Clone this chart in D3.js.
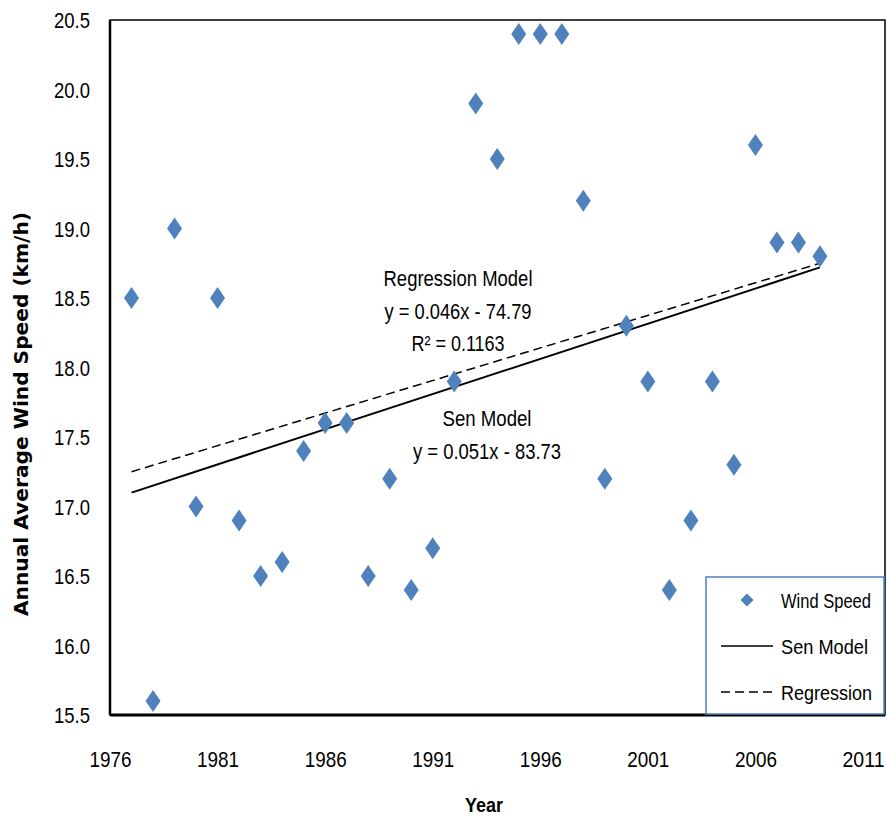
<!DOCTYPE html>
<html>
<head>
<meta charset="utf-8">
<script src="https://cdn.jsdelivr.net/npm/d3@7"></script>
<style>
  body { margin: 0; background: #fff; }
  svg { display: block; }
  .lbl { font-family: "Liberation Sans Narrow", "Arial Narrow", "Liberation Sans", sans-serif; fill: #000; }
</style>
</head>
<body>
<div id="chart"></div>
<script>
// wind speed per year
var years = [1977, 1978, 1979, 1980, 1981, 1982, 1983, 1984, 1985, 1986, 1987,
    1988, 1989, 1990, 1991, 1992, 1993, 1994, 1995, 1996, 1997, 1998,
    1999, 2000, 2001, 2002, 2003, 2004, 2005, 2006, 2007, 2008, 2009];
var windSpeed = [18.5, 15.6, 19.0, 17.0, 18.5, 16.9, 16.5, 16.6, 17.4, 17.6, 17.6,
    16.5, 17.2, 16.4, 16.7, 17.9, 19.9, 19.5, 20.4, 20.4, 20.4, 19.2,
    17.2, 18.3, 17.9, 16.4, 16.9, 17.9, 17.3, 19.6, 18.9, 18.9, 18.8];

// trend line end points (year, value)
var senLine = [[1977, 17.10], [2009, 18.72]];
var regLine = [[1977, 17.25], [2009, 18.75]];

var xTicks = [1976, 1981, 1986, 1991, 1996, 2001, 2006, 2011];
var yTicks = [15.5, 16.0, 16.5, 17.0, 17.5, 18.0, 18.5, 19.0, 19.5, 20.0, 20.5];

var regText = ["Regression Model", "y = 0.046x - 74.79", "R² = 0.1163"];
var senText = ["Sen Model", "y = 0.051x - 83.73"];
var legendItems = ["Wind Speed", "Sen Model", "Regression"];

var W = 887, H = 818;
var pL = 110, pT = 20, pR = 885, pB = 715;

var svg = d3.select("#chart").append("svg")
    .attr("width", W).attr("height", H);

var x = d3.scaleLinear().domain([1976, 2011]).range([pL, 863]);
var y = d3.scaleLinear().domain([15.5, 20.5]).range([pB, pT]);

// squeeze text to the narrow look of the original font
function fit(sel, w) {
    sel.attr("textLength", w).attr("lengthAdjust", "spacingAndGlyphs");
}

// plot frame
svg.append("rect")
    .attr("x", pL).attr("y", pT)
    .attr("width", pR - pL).attr("height", pB - pT)
    .attr("fill", "none").attr("stroke", "#000").attr("stroke-width", 1.5);
svg.append("line")
    .attr("x1", pL).attr("x2", pL).attr("y1", pT).attr("y2", pB)
    .attr("stroke", "#000").attr("stroke-width", 2.5);
svg.append("line")
    .attr("x1", pL).attr("x2", pR).attr("y1", pB).attr("y2", pB)
    .attr("stroke", "#000").attr("stroke-width", 3);

// axes (labels only, no tick marks)
var yAxis = d3.axisLeft(y).tickValues(yTicks).tickFormat(d3.format(".1f"))
    .tickSize(0).tickPadding(20);
var gy = svg.append("g").attr("transform", "translate(" + pL + ",0)").call(yAxis);
gy.select(".domain").remove();
gy.selectAll("text").attr("class", "lbl").style("font-size", "22px")
    .attr("dy", "0.36em").call(fit, 36);

var xAxis = d3.axisBottom(x).tickValues(xTicks).tickFormat(d3.format("d"))
    .tickSize(0).tickPadding(36);
var gx = svg.append("g").attr("transform", "translate(0," + pB + ")").call(xAxis);
gx.select(".domain").remove();
gx.selectAll("text").attr("class", "lbl").style("font-size", "22px").call(fit, 42);

// axis titles
svg.append("text")
    .attr("transform", "translate(28,414) rotate(-90)")
    .attr("text-anchor", "middle")
    .attr("textLength", 404).attr("lengthAdjust", "spacingAndGlyphs")
    .style("font-family", "'DejaVu Sans', Verdana, sans-serif")
    .style("font-weight", "bold").style("font-size", "19px")
    .text("Annual Average  Wind Speed (km/h)");
svg.append("text")
    .attr("class", "lbl")
    .attr("x", 484).attr("y", 812)
    .attr("text-anchor", "middle")
    .style("font-weight", "bold").style("font-size", "21px")
    .call(fit, 38)
    .text("Year");

// trend lines
var line = d3.line().x(function (d) { return x(d[0]); }).y(function (d) { return y(d[1]); });
svg.append("path").datum(senLine).attr("d", line)
    .attr("fill", "none").attr("stroke", "#000").attr("stroke-width", 2);
svg.append("path").datum(regLine).attr("d", line)
    .attr("fill", "none").attr("stroke", "#000").attr("stroke-width", 1.5)
    .attr("stroke-dasharray", "9,5");

// diamonds
var diamond = function (cx, cy, hw, hh) {
    return "M" + cx + "," + (cy - hh) + "L" + (cx + hw) + "," + cy +
        "L" + cx + "," + (cy + hh) + "L" + (cx - hw) + "," + cy + "Z";
};
svg.append("g").selectAll("path")
    .data(years)
    .enter().append("path")
    .attr("d", function (d, i) { return diamond(x(d), y(windSpeed[i]), 7.5, 11); })
    .attr("fill", "#4F81BD");

// equation labels
var regW = [149, 147, 93], senW = [89, 148];
svg.append("g").selectAll("text").data(regText).enter().append("text")
    .attr("class", "lbl")
    .attr("x", 458).attr("y", function (d, i) { return 286 + i * 32.5; })
    .attr("text-anchor", "middle").style("font-size", "22px")
    .attr("textLength", function (d, i) { return regW[i]; })
    .attr("lengthAdjust", "spacingAndGlyphs")
    .text(function (d) { return d; });
svg.append("g").selectAll("text").data(senText).enter().append("text")
    .attr("class", "lbl")
    .attr("x", 487).attr("y", function (d, i) { return 426 + i * 32.5; })
    .attr("text-anchor", "middle").style("font-size", "22px")
    .attr("textLength", function (d, i) { return senW[i]; })
    .attr("lengthAdjust", "spacingAndGlyphs")
    .text(function (d) { return d; });

// legend
var legW = [90, 87, 91];
var lg = svg.append("g");
lg.append("rect")
    .attr("x", 706).attr("y", 577).attr("width", 178).attr("height", 137)
    .attr("fill", "#fff").attr("stroke", "#4F81BD").attr("stroke-width", 1.5);
lg.append("path").attr("d", diamond(747, 600, 6.5, 6.5)).attr("fill", "#4F81BD");
lg.append("line").attr("x1", 721).attr("x2", 773).attr("y1", 646).attr("y2", 646)
    .attr("stroke", "#000").attr("stroke-width", 1.5);
lg.append("line").attr("x1", 721).attr("x2", 773).attr("y1", 692).attr("y2", 692)
    .attr("stroke", "#000").attr("stroke-width", 1.5).attr("stroke-dasharray", "9,5");
lg.selectAll("text.item").data(legendItems).enter().append("text")
    .attr("class", "lbl")
    .attr("x", 781).attr("y", function (d, i) { return 608 + i * 46; })
    .style("font-size", "20px")
    .attr("textLength", function (d, i) { return legW[i]; })
    .attr("lengthAdjust", "spacingAndGlyphs")
    .text(function (d) { return d; });
</script>
</body>
</html>
